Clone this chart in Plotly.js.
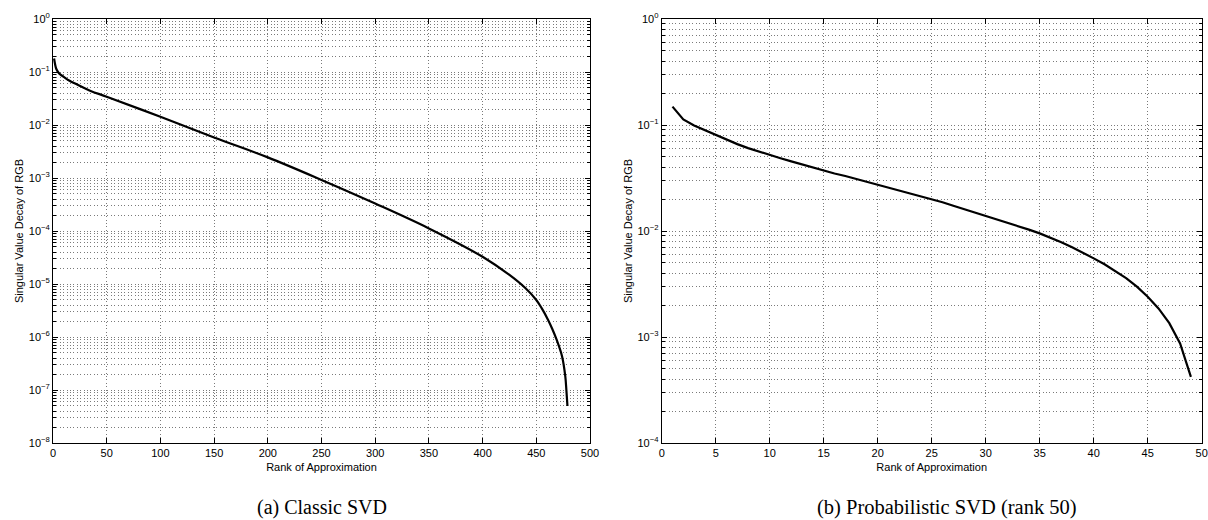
<!DOCTYPE html>
<html>
<head>
<meta charset="utf-8">
<script src="https://cdn.plot.ly/plotly-3.0.1.min.js"></script>
<style>html,body{margin:0;padding:0;background:#fff;}#chart{width:1208px;height:520px;}</style>
</head>
<body>
<div id="chart"></div>
<script>
// ---- Data ----
const classicRank  = [1, 2, 3, 5, 7, 10, 15, 22, 35, 50, 100, 150, 200, 250, 300, 350, 400, 425, 440, 450, 455, 461, 465, 469, 474, 477, 478, 479];
const classicValue = [0.18, 0.138, 0.115, 0.098, 0.089, 0.081, 0.069, 0.0585, 0.044, 0.0342, 0.0143, 0.0058, 0.00245, 0.00092, 0.00033, 0.000112, 3.27e-5, 1.48e-5, 8.3e-6, 5.0e-6, 3.5e-6, 2.1e-6, 1.4e-6, 8.8e-7, 4.3e-7, 1.8e-7, 1.0e-7, 5.0e-8];

const probRank  = [1,2,3,4,5,6,7,8,9,10,11,12,13,14,15,16,17,18,19,20,21,22,23,24,25,26,27,28,29,30,31,32,33,34,35,36,37,38,39,40,41,42,43,44,45,46,47,48,49];
const probValue = [0.149, 0.113, 0.0989, 0.0891, 0.0817, 0.0732, 0.0660, 0.0605, 0.056, 0.0521,
                   0.0486, 0.0454, 0.0424, 0.0396, 0.0371, 0.0349, 0.033, 0.031, 0.0292, 0.0276,
                   0.0259, 0.0243, 0.0228, 0.0214, 0.0200, 0.0187, 0.0173, 0.0161, 0.0150, 0.0139,
                   0.0129, 0.0120, 0.0112, 0.0103, 0.0095, 0.00867, 0.00785, 0.00703, 0.00626, 0.00552,
                   0.00485, 0.00421, 0.00360, 0.00299, 0.00240, 0.00186, 0.00135, 0.00087, 0.00042];

const classicXTicks = [0, 50, 100, 150, 200, 250, 300, 350, 400, 450, 500];
const probXTicks    = [0, 5, 10, 15, 20, 25, 30, 35, 40, 45, 50];
const classicExps   = [0, -1, -2, -3, -4, -5, -6, -7, -8];
const probExps      = [0, -1, -2, -3, -4];

const yTitle = 'Singular Value Decay of RGB';
const xTitle = 'Rank of Approximation';
const captionA = '(a) Classic SVD';
const captionB = '(b) Probabilistic SVD (rank 50)';

// ---- Build ----
const FONT = 'Liberation Sans, Arial, Helvetica, sans-serif';
const SERIF = 'Liberation Serif, Times New Roman, serif';
const GRID = '#7a7a7a';
const DOTS = '1px,2.4px';

function expLabel(e) {
  return e === 0 ? '10<sup>0</sup>' : '10<sup>\u2212' + Math.abs(e) + '</sup>';
}

function xAxis(domain, ticks, anchor) {
  return {
    domain: domain, anchor: anchor,
    range: [ticks[0], ticks[ticks.length - 1]],
    tickvals: ticks, ticktext: ticks.map(String),
    ticks: 'inside', ticklen: 5, tickcolor: '#000', tickwidth: 1,
    showline: true, linecolor: '#000', linewidth: 1, mirror: 'ticks',
    showgrid: true, gridcolor: GRID, griddash: DOTS, gridwidth: 1,
    zeroline: false,
    tickfont: {family: FONT, size: 11, color: '#000'},
    title: {text: xTitle, font: {family: FONT, size: 11, color: '#000'}, standoff: 5},
    automargin: false
  };
}

function yAxis(domain, exps, anchor) {
  const vals = exps.map(e => Math.pow(10, e));
  return {
    domain: domain, anchor: anchor, type: 'log',
    range: [exps[exps.length - 1], exps[0]],
    tickvals: vals, ticktext: exps.map(expLabel),
    ticks: 'inside', ticklen: 5, tickcolor: '#000', tickwidth: 1,
    showline: true, linecolor: '#000', linewidth: 1, mirror: 'ticks',
    showgrid: true, gridcolor: GRID, griddash: DOTS, gridwidth: 1,
    minor: {dtick: 'D1', showgrid: true, gridcolor: GRID, griddash: DOTS, gridwidth: 1,
            ticks: 'inside', ticklen: 3, tickcolor: '#000'},
    zeroline: false,
    tickfont: {family: FONT, size: 11, color: '#000'},
    title: {text: yTitle, font: {family: FONT, size: 11, color: '#000'}, standoff: 2},
    automargin: false
  };
}

const W = 1208, H = 520;
const yDom = [1 - 443 / H, 1 - 19 / H];

const traces = [
  {x: classicRank, y: classicValue, xaxis: 'x', yaxis: 'y', mode: 'lines',
   line: {color: '#000', width: 2.2, shape: 'spline', smoothing: 1}, hoverinfo: 'skip', showlegend: false},
  {x: probRank, y: probValue, xaxis: 'x2', yaxis: 'y2', mode: 'lines',
   line: {color: '#000', width: 2.2}, hoverinfo: 'skip', showlegend: false}
];

const layout = {
  width: W, height: H,
  margin: {l: 0, r: 0, t: 0, b: 0},
  paper_bgcolor: '#fff', plot_bgcolor: '#fff',
  xaxis: xAxis([53 / W, 590 / W], classicXTicks, 'y'),
  yaxis: yAxis(yDom, classicExps, 'x'),
  xaxis2: xAxis([661.7 / W, 1201.7 / W], probXTicks, 'y2'),
  yaxis2: yAxis(yDom, probExps, 'x2'),
  annotations: [
    {text: captionA, xref: 'paper', yref: 'paper', x: 321.5 / W, y: 1 - 507 / H,
     xanchor: 'center', yanchor: 'middle', showarrow: false,
     font: {family: SERIF, size: 20, color: '#000'}},
    {text: captionB, xref: 'paper', yref: 'paper', x: 947 / W, y: 1 - 507 / H,
     xanchor: 'center', yanchor: 'middle', showarrow: false,
     font: {family: SERIF, size: 20.5, color: '#000'}}
  ]
};

Plotly.newPlot('chart', traces, layout, {staticPlot: true, displayModeBar: false});
</script>
</body>
</html>
